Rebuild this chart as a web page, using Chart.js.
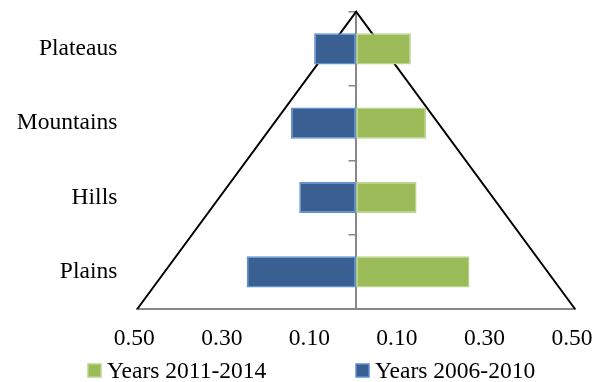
<!DOCTYPE html>
<html>
<head>
<meta charset="utf-8">
<script src="https://cdn.jsdelivr.net/npm/chart.js@4/dist/chart.umd.min.js"></script>
<style>
  html, body { margin: 0; padding: 0; background: #ffffff; }
  #wrap { width: 601px; height: 382px; position: relative; }
</style>
</head>
<body>
<div id="wrap"><canvas id="chart" width="601" height="382"></canvas></div>
<script>
// Landform categories, top to bottom
const categories = ['Plateaus', 'Mountains', 'Hills', 'Plains'];
// Share per landform in each period (drawn to the right / to the left of zero)
const years2011to2014 = [0.125, 0.160, 0.138, 0.259];
const years2006to2010 = [0.096, 0.149, 0.130, 0.250];
// Horizontal axis ticks; labels show magnitudes on both sides
const xTickValues = [-0.5, -0.3, -0.1, 0.1, 0.3, 0.5];
// Outline of the pyramid: base corners and apex (x on the value axis, y as 0..1 of the plot height)
const pyramidOutline = [
  { x: -0.5, y: 0 },
  { x: 0, y: 1 },
  { x: 0.5, y: 0 }
];

const SERIF = '"Liberation Serif", "Times New Roman", serif';
const FONT_SIZE = 23.5;
const AXIS_GREY = '#878787';

// Scales here are sized by hand, so drop the automatic label overhang padding
function noOverhang(scale) {
  scale.paddingTop = 0;
  scale.paddingBottom = 0;
  scale.paddingLeft = 0;
  scale.paddingRight = 0;
}

// Legend drawn beneath the axis labels
const bottomLegend = {
  id: 'bottomLegend',
  afterDraw(chart, args, opts) {
    const ctx = chart.ctx;
    ctx.save();
    ctx.font = FONT_SIZE + 'px ' + SERIF;
    ctx.textAlign = 'left';
    ctx.textBaseline = 'alphabetic';
    opts.items.forEach((item) => {
      const ds = chart.data.datasets[item.dataset];
      ctx.fillStyle = ds.backgroundColor;
      ctx.fillRect(item.x, opts.boxTop, opts.box, opts.box);
      ctx.lineWidth = 1.5;
      ctx.strokeStyle = ds.borderColor;
      ctx.strokeRect(item.x, opts.boxTop, opts.box, opts.box);
      ctx.fillStyle = '#000000';
      ctx.fillText(ds.label, item.x + opts.box + 6, opts.baseline);
    });
    ctx.restore();
  }
};

new Chart(document.getElementById('chart'), {
  type: 'bar',
  data: {
    labels: categories,
    datasets: [
      {
        label: 'Years 2011-2014',
        data: years2011to2014,
        grouped: false,
        backgroundColor: '#9BBB59',
        borderColor: '#BBD58D',
        borderWidth: 1.5,
        borderSkipped: false,
        categoryPercentage: 1,
        barPercentage: 0.42,
        xAxisID: 'x',
        yAxisID: 'y'
      },
      {
        label: 'Years 2006-2010',
        data: years2006to2010.map(v => -v),
        grouped: false,
        backgroundColor: '#3A6093',
        borderColor: '#5E90D4',
        borderWidth: 1.5,
        borderSkipped: false,
        categoryPercentage: 1,
        barPercentage: 0.42,
        xAxisID: 'x',
        yAxisID: 'y'
      },
      {
        type: 'line',
        label: 'outline',
        indexAxis: 'x',
        data: pyramidOutline,
        xAxisID: 'x',
        yAxisID: 'yTri',
        borderColor: '#000000',
        borderWidth: 2,
        pointRadius: 0,
        tension: 0,
        fill: false,
        clip: false
      }
    ]
  },
  options: {
    indexAxis: 'y',
    responsive: false,
    animation: false,
    layout: { padding: { left: 0, right: 26, top: 11.7, bottom: 0 } },
    plugins: {
      legend: { display: false },
      tooltip: { enabled: false },
      bottomLegend: {
        box: 13,
        boxTop: 364,
        baseline: 378,
        items: [
          { dataset: 0, x: 88 },
          { dataset: 1, x: 356 }
        ]
      }
    },
    scales: {
      y: {
        type: 'category',
        position: 'left',
        offset: true,
        grid: { display: false, drawTicks: false, offset: true },
        border: { display: false },
        ticks: {
          color: '#000000',
          padding: 20,
          font: { family: SERIF, size: FONT_SIZE }
        },
        afterFit(scale) { scale.width = 137.3; noOverhang(scale); }
      },
      yMid: {
        type: 'category',
        position: { x: 0 },
        offset: true,
        grid: {
          display: true,
          drawOnChartArea: false,
          drawTicks: true,
          tickLength: 6.5,
          offset: true,
          color: AXIS_GREY,
          lineWidth: 1.5
        },
        border: { display: true, color: AXIS_GREY, width: 2 },
        ticks: { display: false },
        afterFit(scale) { scale.width = 0; noOverhang(scale); }
      },
      yTri: {
        type: 'linear',
        min: 0,
        max: 1,
        offset: false,
        display: false
      },
      x: {
        type: 'linear',
        position: 'bottom',
        min: -0.5,
        max: 0.5,
        offset: false,
        grid: { display: false, drawTicks: false },
        border: { display: true, color: AXIS_GREY, width: 2 },
        afterBuildTicks(scale) {
          scale.ticks = xTickValues.map(v => ({ value: v }));
        },
        ticks: {
          color: '#000000',
          padding: 16,
          labelOffset: -3,
          maxRotation: 0,
          autoSkip: false,
          font: { family: SERIF, size: FONT_SIZE },
          callback: (v) => Math.abs(v).toFixed(2)
        },
        afterFit(scale) { scale.height = 382 - 309; noOverhang(scale); }
      }
    }
  },
  plugins: [bottomLegend]
});
</script>
</body>
</html>
